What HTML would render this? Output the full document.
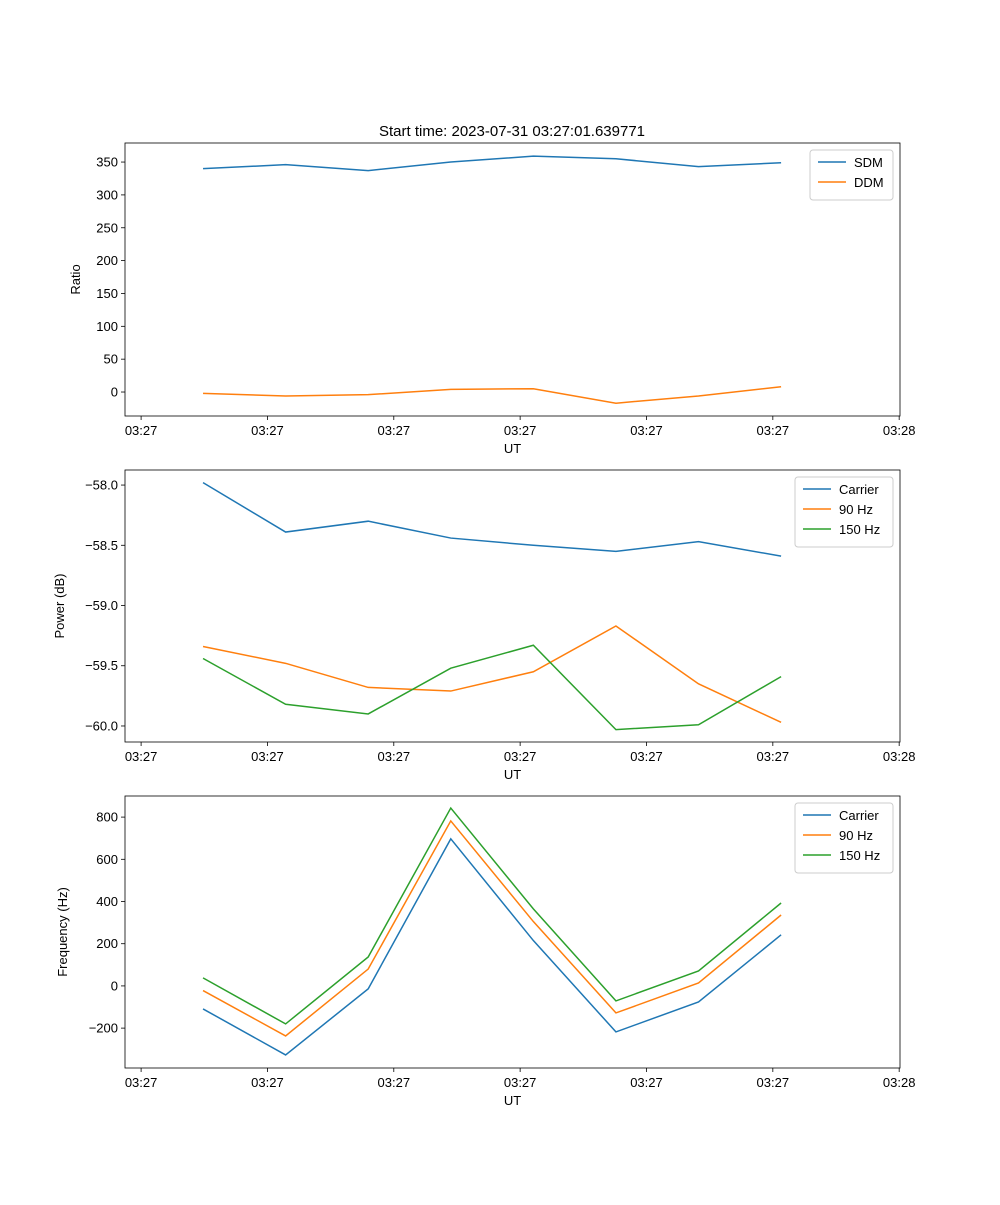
<!DOCTYPE html>
<html><head><meta charset="utf-8"><style>
body{margin:0;background:#fff;}
svg text{font-family:"Liberation Sans","DejaVu Sans",sans-serif;font-size:13px;fill:#000;}
</style></head><body>
<svg id="fig" width="1000" height="1200" xmlns="http://www.w3.org/2000/svg">
<rect width="1000" height="1200" fill="#fff"/>
<text x="512" y="136" text-anchor="middle" style="font-size:15px">Start time: 2023-07-31 03:27:01.639771</text>
</svg>
<script>
const xIdx=[0,1,2,3,4,5,6,7];
const xTickPos=[-0.75,0.78,2.31,3.84,5.37,6.9,8.43];
const xTickLabels=["03:27","03:27","03:27","03:27","03:27","03:27","03:28"];
const sdm=[340,346,337,350,359,355,343,349];
const ddm=[-2,-6,-4,4,5,-17,-6,8];
const pCarrier=[-57.98,-58.39,-58.30,-58.44,-58.50,-58.55,-58.47,-58.59];
const p90=[-59.34,-59.48,-59.68,-59.71,-59.55,-59.17,-59.65,-59.97];
const p150=[-59.44,-59.82,-59.90,-59.52,-59.33,-60.03,-59.99,-59.59];
const fCarrier=[-109,-327,-14,697,215,-218,-76,242];
const f90=[-22,-237,80,782,305,-128,14,336];
const f150=[38,-180,137,843,365,-71,71,393];
const ticks1=[0,50,100,150,200,250,300,350];
const ticks2=[-60.0,-59.5,-59.0,-58.5,-58.0];
const ticks3=[-200,0,200,400,600,800];
const C=["#1f77b4","#ff7f0e","#2ca02c"];
const svg=document.getElementById('fig');
const NS="http://www.w3.org/2000/svg";
function mk(tag,attrs,parent){const e=document.createElementNS(NS,tag);for(const k in attrs)e.setAttribute(k,attrs[k]);(parent||svg).appendChild(e);return e;}
const L=125,R=900,xmin=-0.945,xmax=8.44;
const xs=v=>L+(v-xmin)/(xmax-xmin)*(R-L);
function panel(name,top,bot,ymin,ymax,yt,ylabel,series,names,legW,fmt){
  const g=mk('g',{});
  
  
  const ys=v=>bot-(v-ymin)/(ymax-ymin)*(bot-top);
  series.forEach((s,i)=>{
    const p=mk('polyline',{points:s.map((v,j)=>xs(xIdx[j])+','+ys(v)).join(' '),fill:'none',stroke:C[i],'stroke-width':1.5},g);
    
    
  });
  const fr=mk('rect',{x:L,y:top,width:R-L,height:bot-top,fill:'none',stroke:'#000','stroke-width':0.8},g);
  
  
  xTickPos.forEach((t,i)=>{
    const x=xs(t);
    mk('line',{x1:x,x2:x,y1:bot,y2:bot+4,stroke:'#000','stroke-width':0.8},g);
    const tx=mk('text',{x:x,y:bot+19,'text-anchor':'middle'},g);tx.textContent=xTickLabels[i];
    
    
  });
  yt.forEach(t=>{
    const y=ys(t);
    mk('line',{x1:L-4,x2:L,y1:y,y2:y,stroke:'#000','stroke-width':0.8},g);
    const tx=mk('text',{x:L-7,y:y+4.5,'text-anchor':'end'},g);tx.textContent=fmt(t);
    
    
  });
  const xl=mk('text',{x:(L+R)/2,y:bot+37,'text-anchor':'middle'},g);xl.textContent='UT';
  
  
  const yl=mk('text',{x:0,y:0,'text-anchor':'middle',transform:`translate(${ylabel[1]},${(top+bot)/2}) rotate(-90)`},g);yl.textContent=ylabel[0];
  
  
  const lg=mk('g',{},g);
  
  
  const lx=R-7-legW,ly=top+7;
  mk('rect',{x:lx,y:ly,width:legW,height:10+names.length*20,rx:3,fill:'#fff',stroke:'#ccc'},lg);
  names.forEach((n,i)=>{
    const y=ly+12+i*20;
    mk('line',{x1:lx+8,x2:lx+36,y1:y,y2:y,stroke:C[i],'stroke-width':1.5},lg);
    const t=mk('text',{x:lx+44,y:y+5},lg);t.textContent=n;
    
    
  });
}
panel('ratio',143,416,-36.5,379,ticks1,['Ratio',80],[sdm,ddm],['SDM','DDM'],83,v=>String(v));
panel('power',470,742,-60.133,-57.875,ticks2,['Power (dB)',64],[pCarrier,p90,p150],['Carrier','90 Hz','150 Hz'],98,v=>'\u2212'+Math.abs(v).toFixed(1));
panel('frequency',796,1068,-389,900,ticks3,['Frequency (Hz)',67],[fCarrier,f90,f150],['Carrier','90 Hz','150 Hz'],98,v=>v<0?'\u2212'+Math.abs(v):String(v));
</script>
</body></html>
